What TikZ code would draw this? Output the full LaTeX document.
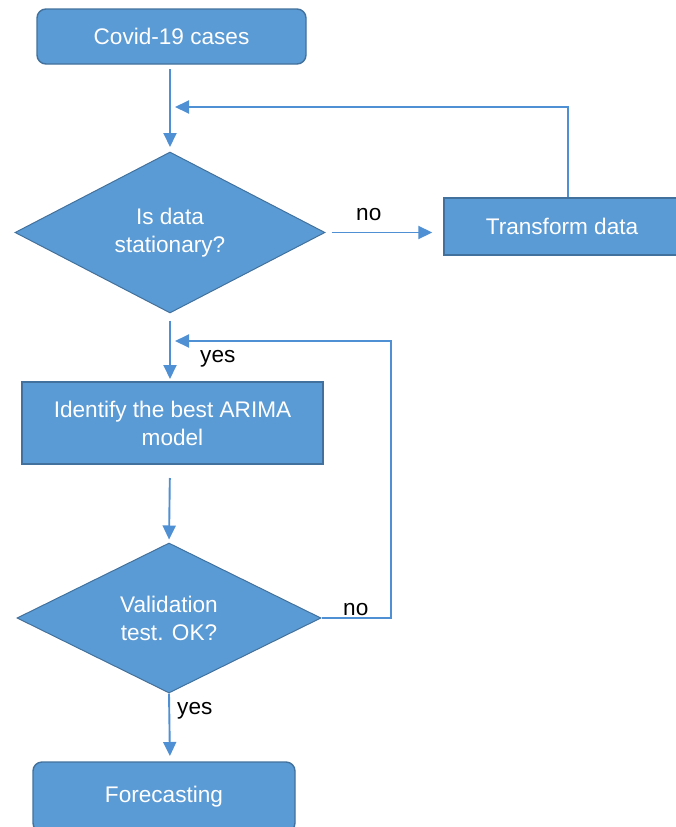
\documentclass[tikz,border=0pt]{standalone}
\usepackage{fontspec}
\setmainfont{Liberation Sans}
\usetikzlibrary{shapes.geometric,arrows.meta}
\definecolor{boxfill}{HTML}{5B9BD5}
\definecolor{boxline}{HTML}{41719C}
\definecolor{conn}{HTML}{4F8FD3}
\begin{document}
\begin{tikzpicture}[x=1pt,y=-1pt,
  every node/.style={font=\fontsize{22.6}{28}\selectfont},
  blockbase/.style={draw=boxline, line width=1.4pt, fill=boxfill, text=white, align=center, inner sep=0pt},
  roundbox/.style={blockbase, rectangle, rounded corners=9pt},
  squarebox/.style={blockbase, rectangle},
  decision/.style={blockbase, diamond, line width=1pt},
  conline/.style={draw=conn, line width=1.9pt},
  conarrow/.style={conline, -{Triangle[length=14pt,width=13pt]}},
  lbl/.style={text=black, inner sep=0pt}
]
\useasboundingbox (0,0) rectangle (676,827);

\node[roundbox, minimum width=269pt, minimum height=55pt] (covid) at (171.5,36.5) {Covid-19 cases};
\node[decision, minimum width=310pt, minimum height=161pt] (d1) at (170,232.5) {Is data\\stationary?};
\node[squarebox, minimum width=236pt, minimum height=57pt] (transform) at (562,226.5) {Transform data};
\node[squarebox, minimum width=301pt, minimum height=82pt] (arima) at (172.5,423) {Identify the best ARIMA\\model};
\node[decision, minimum width=304pt, minimum height=150pt] (d2) at (169,618) {Validation\\test. OK?};
\node[roundbox, minimum width=262pt, minimum height=70pt] (forecast) at (164,797) {Forecasting};

\coordinate (fb1) at (175,107);
\coordinate (fb2) at (175,341);
\coordinate (c1) at (568,107);
\coordinate (c2) at (391,341);

% main flow
\draw[conarrow, shorten <=5pt, shorten >=5pt] (170,64) -- (170,152);
\draw[conarrow, shorten <=6pt, shorten >=11pt] (d1.east) -- (d1.east -| transform.west);
\draw[conarrow, shorten <=7pt, shorten >=3pt] (d1.south) -- (170,382);
\draw[conarrow, shorten <=14pt, shorten >=3pt] (170,464) -- (d2.north);
\draw[conarrow, shorten >=6pt] (d2.south) -- (170,762);

% feedback loops
\draw[conarrow] (transform.north -| c1) -- (c1) -- (fb1);
\draw[conarrow] (d2.east) -- (d2.east -| c2) -- (c2) -- (fb2);

% labels
\node[lbl, anchor=base west] (no1) at (356,220) {no};
\node[lbl, anchor=base west] (yes1) at (200,362) {yes};
\node[lbl, anchor=base west] (no2) at (343,615) {no};
\node[lbl, anchor=base west] (yes2) at (177,714) {yes};
\end{tikzpicture}
\end{document}
